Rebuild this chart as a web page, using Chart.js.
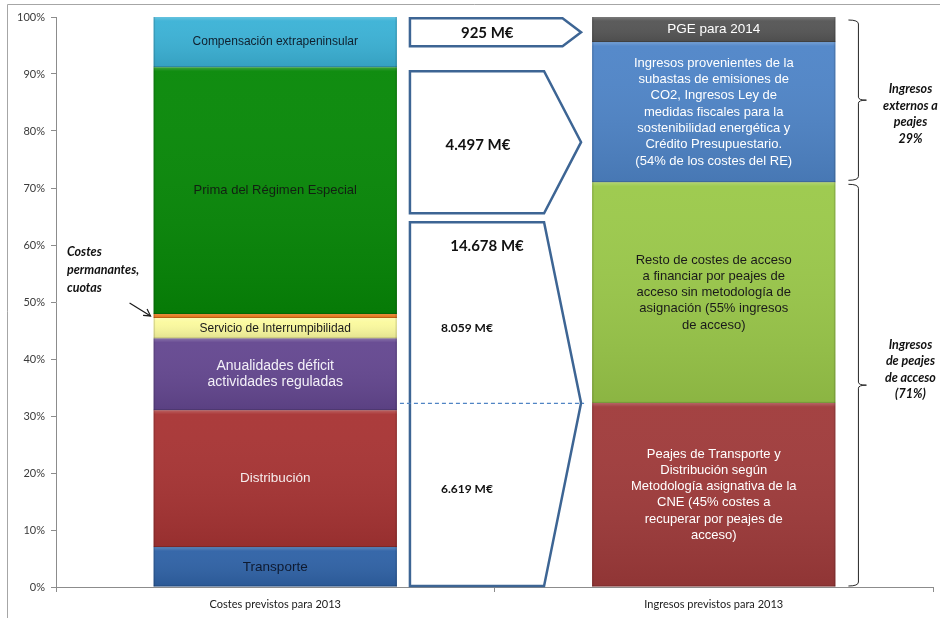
<!DOCTYPE html>
<html>
<head>
<meta charset="utf-8">
<script src="https://cdn.jsdelivr.net/npm/chart.js@4.4.1/dist/chart.umd.min.js"></script>
<style>
  html, body { margin: 0; padding: 0; background: #ffffff; }
  #wrap { width: 940px; height: 618px; position: relative; }
</style>
</head>
<body>
<div id="wrap"><canvas id="c" width="940" height="618"></canvas></div>
<script>
// ---- Data (share of the total, %) ----
const categories = ['Costes previstos para 2013', 'Ingresos previstos para 2013'];

// Costs, stacked bottom to top
const costNames = ['Transporte', 'Distribución', 'Anualidades déficit actividades reguladas',
  'Servicio de Interrumpibilidad', 'Costes permanentes, cuotas', 'Prima del Régimen Especial',
  'Compensación extrapeninsular'];
const costValues = [7.0, 24.0, 12.6, 3.6, 0.7, 43.3, 8.8];
const costLabels = [
  ['Transporte'],
  ['Distribución'],
  ['Anualidades déficit', 'actividades reguladas'],
  ['Servicio de Interrumpibilidad'],
  [],
  ['Prima del Régimen Especial'],
  ['Compensación extrapeninsular']
];

// Revenues, stacked bottom to top
const incomeNames = ['Peajes de Transporte y Distribución', 'Resto de costes de acceso',
  'Ingresos externos (CO2, medidas fiscales, crédito)', 'PGE para 2014'];
const incomeValues = [32.3, 38.7, 24.6, 4.4];
const incomeLabels = [
  ['Peajes de Transporte y', 'Distribución según', 'Metodología asignativa de la',
   'CNE (45% costes a', 'recuperar por peajes de', 'acceso)'],
  ['Resto de costes de acceso', 'a financiar por peajes de', 'acceso sin metodología de',
   'asignación (55% ingresos', 'de acceso)'],
  ['Ingresos provenientes de la', 'subastas de emisiones de', 'CO2, Ingresos Ley de',
   'medidas fiscales para la', 'sostenibilidad energética y', 'Crédito Presupuestario.',
   '(54% de los costes del RE)'],
  ['PGE para 2014']
];

// Flows from costs to revenues (M€) and the value range each block spans
const flowAmounts = ['925 M€', '4.497 M€', '14.678 M€'];
const flowTop = [99.8, 90.5, 64.0];
const flowBottom = [94.7, 65.4, 0];
const flowSplitAmounts = ['8.059 M€', '6.619 M€'];
const flowSplitAt = [45.4, 17.2];

// Right-hand groupings
const groupNotes = [
  ['Ingresos', 'externos a', 'peajes', '29%'],
  ['Ingresos', 'de peajes', 'de acceso', '(71%)']
];
const groupNoteCenter = [83.0, 38.2];
const sideNote = ['Costes', 'permanantes,', 'cuotas'];
const sideNoteCenter = 55.6;

// ---- Styling ----
const costColors = ['#2f62a6', '#a83434', '#644790', '#fbfa9e', '#e46c0a', '#078807', '#3bb2d6'];
const costTextColors = ['#0e1a30', '#f6ecec', '#f3f0f8', '#1a1a1a', null, '#122012', '#10202e'];
const costTextSizes = [13.5, 13.5, 14, 12, 0, 13, 12];
const incomeColors = ['#a03b3b', '#9bc94a', '#4f85c8', '#555555'];
const incomeTextColors = ['#ffffff', '#1a1a1a', '#ffffff', '#ffffff'];
const incomeTextSizes = [13, 13, 13, 13.5];
const flowStroke = '#3d6594';
const axisColor = '#8c8c8c';

const segments = [];
const datasets = [];
costValues.forEach((v, i) => {
  datasets.push({ label: costNames[i], data: [v, null], backgroundColor: costColors[i] });
  segments.push({ col: 0, lines: costLabels[i], color: costTextColors[i], size: costTextSizes[i] });
});
incomeValues.forEach((v, i) => {
  datasets.push({ label: incomeNames[i], data: [null, v], backgroundColor: incomeColors[i] });
  segments.push({ col: 1, lines: incomeLabels[i], color: incomeTextColors[i], size: incomeTextSizes[i] });
});
datasets.forEach(d => {
  d.stack = 's';
  d.barPercentage = 0.555;
  d.categoryPercentage = 1.0;
  d.borderWidth = 0;
});

function barEdges(chart, col) {
  const el = chart.getDatasetMeta(col === 0 ? 0 : costValues.length).data[col];
  return { left: el.x - el.width / 2, right: el.x + el.width / 2 };
}

const decorations = {
  id: 'decorations',
  beforeDraw(chart) {
    const ctx = chart.ctx;
    ctx.save();
    ctx.strokeStyle = '#a6a6a6';
    ctx.lineWidth = 1;
    ctx.beginPath();
    ctx.moveTo(7.5, 700);
    ctx.lineTo(7.5, 4.5);
    ctx.lineTo(1000, 4.5);
    ctx.stroke();
    ctx.restore();
  },
  afterDatasetsDraw(chart) {
    const ctx = chart.ctx;
    const ys = chart.scales.y;
    ctx.save();

    // Bevel shading and labels of each stacked segment
    chart.data.datasets.forEach((ds, i) => {
      const seg = segments[i];
      const el = chart.getDatasetMeta(i).data[seg.col];
      if (!el) return;
      const left = el.x - el.width / 2;
      const top = Math.min(el.y, el.base);
      const h = Math.abs(el.base - el.y);
      const g = ctx.createLinearGradient(0, top, 0, top + h);
      g.addColorStop(0, 'rgba(255,255,255,0.22)');
      g.addColorStop(Math.min(1, 4 / Math.max(h, 1)), 'rgba(255,255,255,0.04)');
      g.addColorStop(1, 'rgba(0,0,0,0.10)');
      ctx.fillStyle = g;
      ctx.fillRect(left, top, el.width, h);
      ctx.fillStyle = 'rgba(0,0,0,0.12)';
      ctx.fillRect(left, top, 1.5, h);
      ctx.fillRect(left + el.width - 1.5, top, 1.5, h);
      ctx.fillStyle = 'rgba(0,0,0,0.18)';
      ctx.fillRect(left, top + h - 1, el.width, 1);

      if (seg.lines.length) {
        ctx.fillStyle = seg.color;
        ctx.font = seg.size + 'px "Liberation Sans", Arial, sans-serif';
        ctx.textAlign = 'center';
        ctx.textBaseline = 'middle';
        const lh = 16.3;
        const cy = top + h / 2 - (seg.lines.length - 1) * lh / 2;
        seg.lines.forEach((t, k) => ctx.fillText(t, el.x, cy + k * lh));
      }
    });

    const L = barEdges(chart, 0);
    const R = barEdges(chart, 1);

    // Flow blocks (pentagon arrows)
    const fx0 = L.right + 13;
    const ftip = R.left - 11;
    flowAmounts.forEach((txt, i) => {
      const t = ys.getPixelForValue(flowTop[i]);
      const b = ys.getPixelForValue(flowBottom[i]) - 1;
      const tipY = i === 2 ? ys.getPixelForValue(incomeValues[0]) : (t + b) / 2;
      const depth = Math.min(37, (b - t) * 0.66);
      const sh = ftip - depth;
      ctx.beginPath();
      ctx.moveTo(fx0, t);
      ctx.lineTo(sh, t);
      ctx.lineTo(ftip, tipY);
      ctx.lineTo(sh, b);
      ctx.lineTo(fx0, b);
      ctx.closePath();
      ctx.fillStyle = '#ffffff';
      ctx.fill();
      ctx.strokeStyle = flowStroke;
      ctx.lineWidth = 2.5;
      ctx.lineJoin = 'miter';
      ctx.stroke();

      ctx.fillStyle = '#111111';
      ctx.font = 'bold 15px Lato, "Open Sans", sans-serif';
      ctx.textAlign = 'center';
      ctx.textBaseline = 'middle';
      const ty = i === 2 ? t + 24 : (t + b) / 2 + (i === 1 ? 3 : 1);
      ctx.fillText(txt, (fx0 + sh) / 2 + (i === 2 ? 10 : 1), ty);
    });

    // Split of the access-toll block
    const splitY = ys.getPixelForValue(incomeValues[0]);
    ctx.strokeStyle = '#4f84c4';
    ctx.lineWidth = 1.2;
    ctx.setLineDash([4, 3]);
    ctx.beginPath();
    ctx.moveTo(L.right + 3, splitY + 0.5);
    ctx.lineTo(ftip + 3, splitY + 0.5);
    ctx.stroke();
    ctx.setLineDash([]);

    ctx.fillStyle = '#111111';
    ctx.font = 'bold 12px Lato, "Open Sans", sans-serif';
    ctx.textAlign = 'center';
    flowSplitAmounts.forEach((txt, i) => {
      ctx.fillText(txt, fx0 + 57, ys.getPixelForValue(flowSplitAt[i]));
    });

    // Curly braces grouping the revenue segments
    const bx0 = R.right + 13, bx1 = R.right + 23, btip = R.right + 31;
    const braceRanges = [
      [100, incomeValues[0] + incomeValues[1]],
      [incomeValues[0] + incomeValues[1], 0]
    ];
    ctx.strokeStyle = '#262626';
    ctx.lineWidth = 1;
    braceRanges.forEach(([a, b], i) => {
      const t = ys.getPixelForValue(a) + (i === 0 ? 3 : 2);
      const bt = ys.getPixelForValue(b) - (i === 0 ? 2 : 1);
      const m = (t + bt) / 2;
      ctx.beginPath();
      ctx.moveTo(bx0, t);
      ctx.quadraticCurveTo(bx1, t, bx1, t + 4);
      ctx.lineTo(bx1, m - 3);
      ctx.quadraticCurveTo(bx1, m, btip, m);
      ctx.quadraticCurveTo(bx1, m, bx1, m + 3);
      ctx.lineTo(bx1, bt - 4);
      ctx.quadraticCurveTo(bx1, bt, bx0, bt);
      ctx.stroke();
    });

    // Notes
    ctx.fillStyle = '#111111';
    ctx.font = 'italic bold 12.5px Lato, "Open Sans", sans-serif';
    ctx.textAlign = 'center';
    ctx.textBaseline = 'middle';
    groupNotes.forEach((lines, i) => {
      const cy = ys.getPixelForValue(groupNoteCenter[i]) - (lines.length - 1) * 16.5 / 2;
      lines.forEach((t, k) => ctx.fillText(t, R.right + 75, cy + k * 16.5));
    });

    ctx.textAlign = 'left';
    const sy = ys.getPixelForValue(sideNoteCenter) - (sideNote.length - 1) * 18 / 2;
    sideNote.forEach((t, k) => ctx.fillText(t, 67, sy + k * 18));

    // Pointer to the thin "costes permanentes" segment
    const pEl = chart.getDatasetMeta(4).data[0];
    const py = (pEl.y + pEl.base) / 2;
    const px = L.left - 3;
    ctx.strokeStyle = '#1a1a1a';
    ctx.lineWidth = 1.2;
    ctx.beginPath();
    ctx.moveTo(px - 21, py - 13);
    ctx.lineTo(px, py);
    ctx.stroke();
    ctx.beginPath();
    ctx.moveTo(px - 7.5, py - 0.5);
    ctx.lineTo(px, py);
    ctx.lineTo(px - 3.5, py - 7);
    ctx.stroke();

    ctx.restore();
  }
};

new Chart(document.getElementById('c'), {
  type: 'bar',
  data: { labels: categories, datasets },
  options: {
    responsive: false,
    animation: false,
    layout: { padding: { top: 17, right: 7, bottom: 0, left: 0 } },
    plugins: { legend: { display: false }, tooltip: { enabled: false } },
    scales: {
      x: {
        stacked: true,
        offset: true,
        grid: { display: true, drawOnChartArea: false, drawTicks: true, tickLength: 5, color: axisColor, offset: true },
        border: { color: axisColor, width: 1 },
        ticks: { font: { family: 'Lato', size: 11 }, color: '#1a1a1a', padding: 6 },
        afterFit(s) { s.height = 31; }
      },
      y: {
        stacked: true,
        min: 0,
        max: 100,
        ticks: { stepSize: 10, callback: v => v + '%', font: { family: 'Lato', size: 11 }, color: '#3a3a3a', padding: 6 },
        grid: { drawOnChartArea: false, drawTicks: true, tickLength: 5, color: axisColor },
        border: { color: axisColor, width: 1 },
        afterFit(s) { s.width = 56; }
      }
    }
  },
  plugins: [decorations]
});
</script>
</body>
</html>
